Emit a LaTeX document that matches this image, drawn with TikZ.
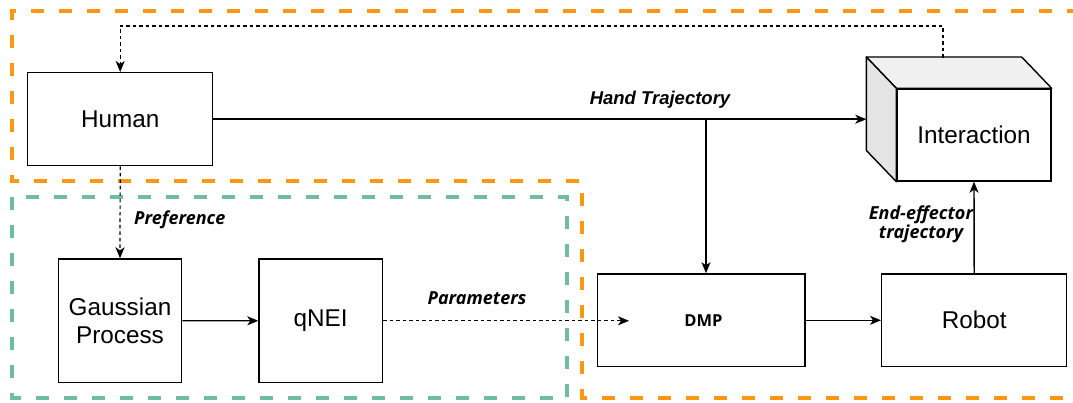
\documentclass[tikz,border=0pt]{standalone}
\usepackage{fontspec}
\setmainfont{Liberation Sans}
\newfontfamily\opensans{Open Sans}
\usetikzlibrary{arrows.meta}
\definecolor{orangeD}{RGB}{255,150,20}
\definecolor{greenD}{RGB}{110,190,155}
\definecolor{topface}{RGB}{240,240,240}
\definecolor{sideface}{RGB}{228,228,228}
\begin{document}
\begin{tikzpicture}[x=1pt,y=-1pt,
 box/.style={draw=black, line width=1.4pt, fill=white, inner sep=0pt, align=center,
   font=\fontsize{24.3}{28.5}\selectfont},
 arr/.style={-{Stealth[length=11pt,width=9pt,inset=3pt]}, line width=1.4pt},
 darr/.style={arr, dash pattern=on 3.5pt off 3pt, line width=1.2pt},
 lbl/.style={font=\opensans\bfseries\itshape\fontsize{18}{19}\selectfont, align=center, inner sep=0pt},
 hlbl/.style={font=\bfseries\itshape\fontsize{18.5}{20}\selectfont, inner sep=0pt},
 orangeframe/.style={draw=orangeD, line width=4pt, dash pattern=on 13pt off 15pt},
 greenframe/.style={draw=greenD, line width=4pt, dash pattern=on 13pt off 15pt}]
\useasboundingbox (0,0) rectangle (1073,403);
\fill[white] (0,0) rectangle (1073,403);

% frames
\draw[orangeframe] (1080,11) -- (12,11) -- (12,181) -- (582,181) -- (582,397.5) -- (1080,397.5);
\draw[greenframe] (12,197) rectangle (567,397.5);

% nodes
\node[box, minimum width=185pt, minimum height=93pt] (human) at (120.2,119.2) {Human};
\node[box, minimum width=123.4pt, minimum height=123.4pt] (gp) at (120,320.7) {Gaussian\\Process};
\node[box, minimum width=123.4pt, minimum height=123.4pt] (qnei) at (320.7,320.8) {qNEI};
\node[box, minimum width=207.3pt, minimum height=92.7pt] (dmp) at (701.3,320.3) {};
\node[font=\opensans\bfseries\fontsize{16.5}{18}\selectfont, inner sep=0pt] (dmplbl) at (703.5,321) {DMP};
\node[box, minimum width=185pt, minimum height=92.7pt] (robot) at (974.2,320.3) {Robot};
\node[box, minimum width=154pt, minimum height=92pt] (inter) at (974,135) {Interaction};

% cube faces
\draw[line width=1.4pt, fill=topface, line join=round]
  ([shift={(-30,-31.3)}]inter.north west) -- ([shift={(-30,-31.3)}]inter.north east)
  -- (inter.north east) -- (inter.north west) -- cycle;
\draw[line width=1.4pt, fill=sideface, line join=round]
  ([shift={(-30,-31.3)}]inter.north west) -- (inter.north west)
  -- (inter.south west) -- ([shift={(-30,-31.3)}]inter.south west) -- cycle;

% helper coordinates
\coordinate (iside) at ([xshift=-30]inter.west);
\coordinate (br) at (706,119.2);
\coordinate (fb) at (943,57.7);
\coordinate (fbtop) at (943,26);
\coordinate (ptip) at (629,320.8);

% connectors
\draw[arr] (human.east) -- (human.east -| iside);
\draw[arr] (br) -- (br |- dmp.north);
\draw[darr] (fb) -- (fbtop) -| (human.north);
\draw[darr] (human.south) -- (gp.north);
\draw[arr] (gp.east) -- (qnei.west);
\draw[darr] (qnei.east) -- (ptip);
\draw[arr] (dmp.east) -- (robot.west);
\draw[arr] (robot.north) -- (inter.south);

% labels
\node[hlbl] (lhand) at (660,100) {Hand Trajectory};
\node[lbl, anchor=west] (lpref) at (134,220) {Preference};
\node[lbl] (lpar) at (477,298) {Parameters};
\node[lbl] (lee) at (921,224) {End-effector\\trajectory};
\end{tikzpicture}
\end{document}
